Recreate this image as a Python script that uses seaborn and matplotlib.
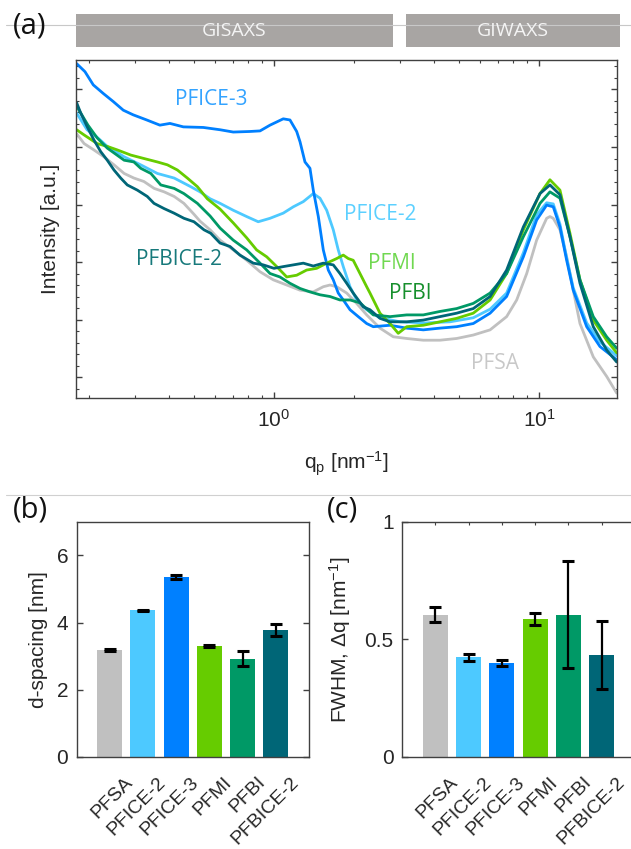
import numpy as np
import pandas as pd
import matplotlib
matplotlib.use("Agg")
import matplotlib.pyplot as plt
import seaborn as sns
from matplotlib.patches import Rectangle
from matplotlib.lines import Line2D
from matplotlib.ticker import FixedLocator, NullFormatter, MultipleLocator, LogLocator
import matplotlib.transforms as mtransforms

sns.set_theme(style="white")
plt.rcParams['font.family'] = ['Liberation Sans', 'DejaVu Sans']
plt.rcParams['mathtext.fontset'] = 'custom'
plt.rcParams['mathtext.rm'] = 'Liberation Sans'
plt.rcParams['mathtext.it'] = 'Liberation Sans:italic'
plt.rcParams['mathtext.default'] = 'regular'

# ---------------- data ----------------
samples = ["PFSA", "PFICE-2", "PFICE-3", "PFMI", "PFBI", "PFBICE-2"]
colors = ["#c0c0c0", "#4dc9ff", "#0080ff", "#66cc00", "#009966", "#006677"]
label_colors = ["#c8c8c8", "#5cd0ff", "#33a3ff", "#70d850", "#168f2c", "#17797b"]

q_pfsa = [0.180, 0.192, 0.209, 0.228, 0.249, 0.272, 0.296, 0.323, 0.353, 0.385, 0.420, 0.457, 0.499, 0.526,
          0.574, 0.626, 0.702, 0.789, 0.886, 0.994, 1.117, 1.254, 1.407, 1.535, 1.627, 1.724, 1.881, 2.051,
          2.238, 2.512, 2.819, 3.168, 3.66, 4.23, 4.89, 5.65, 6.54, 7.55, 8.24, 8.99, 9.80, 10.69, 11.0,
          11.32, 12.0, 12.72, 13.47, 14.28, 16.03, 18.01, 19.65]
I_pfsa = [4.23, 4.06, 3.95, 3.83, 3.69, 3.54, 3.46, 3.40, 3.28, 3.22, 3.14, 3.02, 2.83, 2.71,
          2.56, 2.38, 2.21, 2.03, 1.83, 1.69, 1.60, 1.51, 1.48, 1.57, 1.60, 1.57, 1.46, 1.28,
          1.08, 0.85, 0.70, 0.67, 0.64, 0.64, 0.67, 0.73, 0.82, 1.05, 1.34, 1.80, 2.38, 2.76, 2.79,
          2.76, 2.56, 2.09, 1.51, 0.93, 0.35, 0.01, -0.28]

q_pfice2 = [0.180, 0.197, 0.215, 0.235, 0.272, 0.314, 0.363, 0.420, 0.485, 0.526, 0.574, 0.626, 0.702,
            0.789, 0.872, 0.966, 1.084, 1.183, 1.290, 1.407, 1.491, 1.581, 1.674, 1.748, 1.826, 1.936,
            2.051, 2.238, 2.512, 2.989, 3.714, 4.615, 5.65, 6.54, 7.55, 8.73, 9.80, 10.69, 11.32, 12.0,
            12.72, 13.47, 15.14, 16.99, 19.65]
I_pfice2 = [4.59, 4.30, 4.17, 4.01, 3.83, 3.69, 3.54, 3.46, 3.31, 3.22, 3.10, 3.02, 2.90,
            2.79, 2.70, 2.76, 2.85, 2.96, 3.05, 3.19, 3.11, 2.90, 2.56, 2.21, 1.92, 1.57,
            1.34, 1.17, 1.03, 0.96, 0.94, 0.96, 1.03, 1.18, 1.46, 2.16, 2.82, 3.03, 3.01, 2.66,
            2.07, 1.55, 0.94, 0.61, 0.37]

q_pfice3 = [0.180, 0.1935, 0.208, 0.227, 0.2475, 0.270, 0.294, 0.331, 0.371, 0.405, 0.455, 0.541, 0.626,
            0.702, 0.812, 0.886, 0.966, 1.084, 1.149, 1.218, 1.254, 1.309, 1.367, 1.407, 1.470, 1.535,
            1.603, 1.674, 1.748, 1.826, 1.936, 2.080, 2.238, 2.370, 2.741, 3.168, 3.66, 4.23, 4.89,
            5.65, 6.54, 7.55, 8.73, 9.80, 10.69, 11.32, 12.0, 12.72, 13.47, 15.14, 16.99, 19.65]
I_pfice3 = [5.45, 5.31, 5.08, 4.93, 4.79, 4.64, 4.56, 4.47, 4.38, 4.41, 4.35, 4.34, 4.30,
            4.26, 4.27, 4.28, 4.38, 4.49, 4.47, 4.27, 4.09, 3.74, 3.63, 3.25, 2.79, 2.21,
            1.86, 1.69, 1.46, 1.34, 1.17, 1.05, 0.93, 0.875, 0.90, 0.85, 0.82, 0.85, 0.875,
            0.93, 1.11, 1.40, 2.09, 2.73, 2.99, 2.96, 2.61, 2.03, 1.51, 0.875, 0.53, 0.30]

q_pfmi = [0.180, 0.192, 0.215, 0.235, 0.256, 0.288, 0.323, 0.363, 0.396, 0.432, 0.471, 0.514, 0.560,
          0.626, 0.702, 0.789, 0.860, 0.939, 1.024, 1.117, 1.218, 1.328, 1.449, 1.581, 1.724, 1.826,
          1.907, 1.991, 2.111, 2.238, 2.303, 2.512, 2.741, 2.944, 3.168, 3.66, 4.23, 4.89, 5.65, 6.54,
          7.55, 8.73, 10.09, 11.0, 12.0, 13.09, 14.28, 16.03, 18.01, 19.65]
I_pfmi = [4.30, 4.21, 4.06, 4.01, 3.95, 3.86, 3.80, 3.74, 3.69, 3.60, 3.46, 3.31, 3.10,
          2.92, 2.68, 2.42, 2.21, 2.09, 1.92, 1.74, 1.77, 1.86, 1.89, 1.98, 2.06, 2.12,
          2.06, 2.03, 1.80, 1.57, 1.46, 1.11, 0.93, 0.76, 0.875, 0.90, 0.96, 1.02, 1.11, 1.34,
          1.80, 2.56, 3.19, 3.43, 3.25, 2.50, 1.69, 0.99, 0.64, 0.42]

q_pfbi = [0.180, 0.1986, 0.215, 0.235, 0.272, 0.296, 0.314, 0.343, 0.374, 0.420, 0.457, 0.514, 0.574,
          0.626, 0.702, 0.789, 0.886, 0.966, 1.053, 1.149, 1.254, 1.367, 1.491, 1.627, 1.774, 1.936,
          2.111, 2.370, 2.741, 3.168, 3.66, 4.23, 4.89, 5.65, 6.54, 7.55, 8.73, 10.09, 11.0, 12.0,
          13.09, 14.28, 16.03, 18.01, 19.65]
I_pfbi = [4.71, 4.38, 4.16, 3.98, 3.77, 3.74, 3.63, 3.54, 3.34, 3.28, 3.19, 3.02, 2.80,
          2.59, 2.38, 2.21, 1.98, 1.80, 1.74, 1.63, 1.54, 1.48, 1.43, 1.40, 1.34, 1.34,
          1.29, 1.08, 1.05, 1.08, 1.08, 1.14, 1.19, 1.28, 1.46, 1.80, 2.44, 3.02, 3.22, 3.11,
          2.44, 1.69, 1.05, 0.70, 0.50]

q_pfbice2 = [0.180, 0.1865, 0.1974, 0.2093, 0.2218, 0.2349, 0.249, 0.264, 0.2795, 0.305, 0.3325, 0.3525,
             0.3845, 0.4195, 0.4574, 0.4989, 0.5442, 0.5769, 0.6256, 0.6823, 0.744, 0.8353, 0.9112, 1.0,
             1.084, 1.183, 1.290, 1.407, 1.535, 1.674, 1.774, 1.881, 1.991, 2.173, 2.303, 2.512, 2.741,
             3.168, 3.66, 4.23, 4.89, 5.65, 6.54, 7.55, 8.73, 10.09, 11.0, 12.0, 13.09, 14.28, 16.03,
             18.01, 19.65]
I_pfbice2 = [4.77, 4.59, 4.35, 4.12, 3.92, 3.77, 3.60, 3.46, 3.34, 3.25, 3.14, 3.02,
             2.93, 2.85, 2.76, 2.70, 2.56, 2.50, 2.33, 2.27, 2.12, 1.98, 1.95, 1.89,
             1.92, 1.95, 1.98, 1.93, 1.98, 1.95, 1.80, 1.63, 1.46, 1.22, 1.17, 1.02, 0.96,
             0.96, 0.99, 1.05, 1.11, 1.19, 1.40, 1.86, 2.61, 3.19, 3.34, 3.17, 2.44, 1.63, 0.875,
             0.47, 0.26]

d_spacing = [3.18, 4.36, 5.36, 3.30, 2.92, 3.79]
d_err = [0.04, 0.02, 0.05, 0.02, 0.22, 0.18]
fwhm = [0.605, 0.424, 0.400, 0.587, 0.605, 0.432]
fwhm_err = [0.033, 0.014, 0.014, 0.025, 0.228, 0.145]

# label positions for panel (a) (q, value)
label_q = [6.82, 2.51, 0.578, 2.79, 3.26, 0.438]
label_I = [0.24, 2.82, 4.82, 1.98, 1.46, 2.05]

# ---------------- figure ----------------
W, H = 631, 849
fig = plt.figure(figsize=(W / 100, H / 100), dpi=100)
fig.patch.set_facecolor("white")


def fx(x):
    return x / W


def fy(y):
    return 1 - y / H


spine_col = "#404040"
FS = 15

# decorative lines
fig.add_artist(Line2D([fx(6), 1], [fy(25), fy(25)], color="#c8c8c8", lw=0.8))
fig.add_artist(Line2D([fx(6), 1], [fy(494.5), fy(494.5)], color="#d0d0d0", lw=0.8))
banner_col = "#a8a5a3"
for (x0, x1, txt) in [(76, 393, "GISAXS"), (406, 620, "GIWAXS")]:
    fig.add_artist(Rectangle((fx(x0), fy(47)), fx(x1) - fx(x0), fy(14) - fy(47),
                             transform=fig.transFigure, color=banner_col, lw=0))
    fig.text(fx((x0 + x1) / 2), fy(31), txt, color="#f4f4f4", fontsize=14,
             family=["Open Sans", "DejaVu Sans"], ha="center", va="center")

for (x, y, t) in [(30, 26, "(a)"), (30, 510, "(b)"), (343, 510, "(c)")]:
    fig.text(fx(x), fy(y), t, fontsize=21, family=["Open Sans", "DejaVu Sans"],
             ha="center", va="center", color="#111111")

# ---------------- panel (a) ----------------
ax = fig.add_axes([fx(76), fy(398), fx(617) - fx(76), fy(60) - fy(398)])
curves = {"PFSA": (q_pfsa, I_pfsa), "PFICE-2": (q_pfice2, I_pfice2), "PFICE-3": (q_pfice3, I_pfice3),
          "PFMI": (q_pfmi, I_pfmi), "PFBI": (q_pfbi, I_pfbi), "PFBICE-2": (q_pfbice2, I_pfbice2)}
df = pd.concat([pd.DataFrame({"q": q, "I": I, "sample": s}) for s, (q, I) in curves.items()],
               ignore_index=True)
sns.lineplot(data=df, x="q", y="I", hue="sample", hue_order=samples, palette=colors,
             estimator=None, sort=False, lw=2.0, legend=False, ax=ax)
ax.set_xscale("log")
ax.set_xlim(0.179, 19.7)
ax.set_ylim(-0.365, 5.513)
ax.xaxis.set_major_locator(FixedLocator([1, 10]))
ax.set_xticklabels(["$10^{0}$", "$10^{1}$"])
ax.xaxis.set_minor_locator(LogLocator(base=10, subs=np.arange(2, 10)))
ax.xaxis.set_minor_formatter(NullFormatter())
ax.yaxis.set_major_locator(MultipleLocator(1))
ax.yaxis.set_minor_locator(MultipleLocator(0.2))
ax.yaxis.set_major_formatter(NullFormatter())
ax.tick_params(which="both", direction="in", top=True, right=True, bottom=True, left=True,
               color=spine_col, labelsize=FS)
ax.tick_params(which="major", length=4.5, width=1, pad=8)
ax.tick_params(which="minor", length=2.5, width=0.8)
ax.set_xlabel("q$_{p}$ [nm$^{-1}$]", fontsize=FS)
ax.set_ylabel("Intensity [a.u.]", fontsize=FS)
ax.yaxis.set_label_coords(-0.0295, 0.5)
ax.xaxis.set_label_coords(0.5, -0.152)
for s, c, xq, yI in zip(samples, label_colors, label_q, label_I):
    ax.text(xq, yI, s, color=c, fontsize=15, family=["Open Sans", "DejaVu Sans"],
            ha="center", va="center")

# ---------------- panels (b), (c) ----------------
axb = fig.add_axes([fx(76.5), fy(757), 232.5 / W, fy(521.7) - fy(757)])
axc = fig.add_axes([fx(402), fy(757), 233 / W, fy(521.7) - fy(757)])

for a, vals, errs, ylim, yt, ylab, lc, rt, tt in [
        (axb, d_spacing, d_err, (0, 7), [0, 2, 4, 6], "d-spacing [nm]", -0.123, True, False),
        (axc, fwhm, fwhm_err, (0, 1), [0, 0.5, 1], "FWHM, Δq [nm$^{-1}$]", -0.212, False, True)]:
    sns.barplot(x=samples, y=vals, hue=samples, palette=colors, saturation=1, width=0.75,
                legend=False, ax=a, linewidth=0)
    a.errorbar(np.arange(len(samples)), vals, yerr=errs, fmt="none", ecolor="black",
               elinewidth=1.6, capsize=4.6, capthick=2.2, zorder=3)
    a.set_xlim(-1, 6)
    a.set_ylim(*ylim)
    a.set_yticks(yt)
    a.set_yticklabels([("%g" % v) for v in yt])
    a.set_ylabel(ylab, fontsize=FS)
    a.yaxis.set_label_coords(lc, 0.5)
    a.tick_params(axis="y", direction="in", left=True, right=rt, length=4.5, width=1,
                  color=spine_col, labelsize=FS, pad=6)
    a.set_xticks(np.arange(len(samples)))
    a.set_xticklabels(samples)
    a.tick_params(axis="x", direction="in", bottom=True, top=tt, length=2.5, width=0.8,
                  color=spine_col, labelsize=14, pad=12)
    off = mtransforms.ScaledTranslation(14 / 100, 0, fig.dpi_scale_trans)
    for lab in a.get_xticklabels():
        lab.set_rotation(45)
        lab.set_ha("right")
        lab.set_va("top")
        lab.set_rotation_mode("anchor")
        lab.set_transform(lab.get_transform() + off)

for a in (ax, axb, axc):
    for sp in a.spines.values():
        sp.set_color(spine_col)
        sp.set_linewidth(1.0)
        sp.set_visible(True)
    a.set_facecolor("white")

fig.savefig("out.png", dpi=100)
